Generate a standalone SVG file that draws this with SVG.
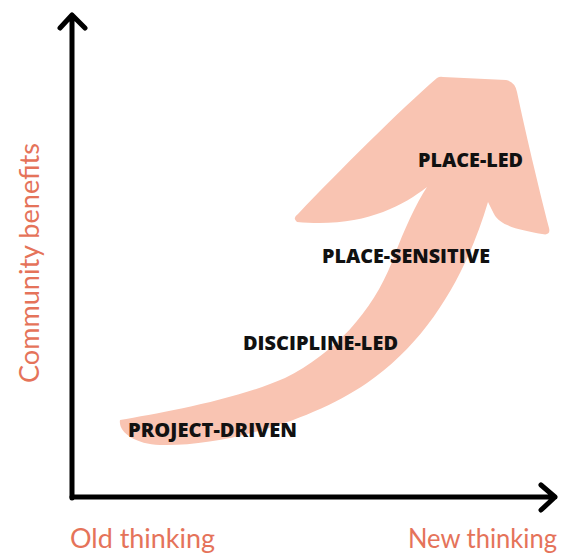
<svg xmlns="http://www.w3.org/2000/svg" width="566" height="559" viewBox="0 0 566 559">
<style>
.lbl{font-family:"Open Sans","DejaVu Sans",sans-serif;font-weight:800;font-size:19px;fill:#111;}
.ax{font-family:"Lato","Open Sans",sans-serif;font-weight:400;font-size:26px;fill:#E5735A;}
.axis{fill:none;stroke:#000;stroke-width:5;stroke-linecap:round;stroke-linejoin:round;}
</style>
<rect width="566" height="559" fill="#fff"/>
<g id="growth-arrow">
<path fill="#F9C4B2" d="M 443,77 L 506,80 Q 515,82 517,92 C 525,130 538,185 549,228 Q 551,236 542,234 C 520,230 500,226 494,214 L 488,202 C 468,270 430,340 367,383 C 310,422 220,447 160,445 C 135,444 118,432 120,420 C 160,413 235,400 285,378 C 335,353 372,312 392,262 C 402,235 415,205 427,187 C 400,208 360,228 297,222 Q 292,218 298,214 C 340,170 400,110 437,78 Q 440,76 443,77 Z"/>
</g>
<g id="connectors">
<path class="axis" d="M 72,498 L 72,15 M 60,28 L 72,15 L 85,28"/>
<path class="axis" d="M 72,497 L 555,497 M 541,485 L 555,497 L 541,510"/>
</g>
<g id="project-driven"><text class="lbl" x="128" y="437" textLength="169" lengthAdjust="spacingAndGlyphs">PROJECT-DRIVEN</text></g>
<g id="discipline-led"><text class="lbl" x="243" y="350" textLength="155" lengthAdjust="spacingAndGlyphs">DISCIPLINE-LED</text></g>
<g id="place-sensitive"><text class="lbl" x="322" y="263" textLength="168" lengthAdjust="spacingAndGlyphs">PLACE-SENSITIVE</text></g>
<g id="place-led"><text class="lbl" x="418" y="167" textLength="105" lengthAdjust="spacingAndGlyphs">PLACE-LED</text></g>
<g id="x-old"><text class="ax" x="70" y="548" textLength="145" lengthAdjust="spacingAndGlyphs">Old thinking</text></g>
<g id="x-new"><text class="ax" x="408" y="548" textLength="149" lengthAdjust="spacingAndGlyphs">New thinking</text></g>
<g id="y-label"><text class="ax" transform="translate(39,383) rotate(-90)" x="0" y="0" textLength="240" lengthAdjust="spacingAndGlyphs">Community benefits</text></g>
</svg>
